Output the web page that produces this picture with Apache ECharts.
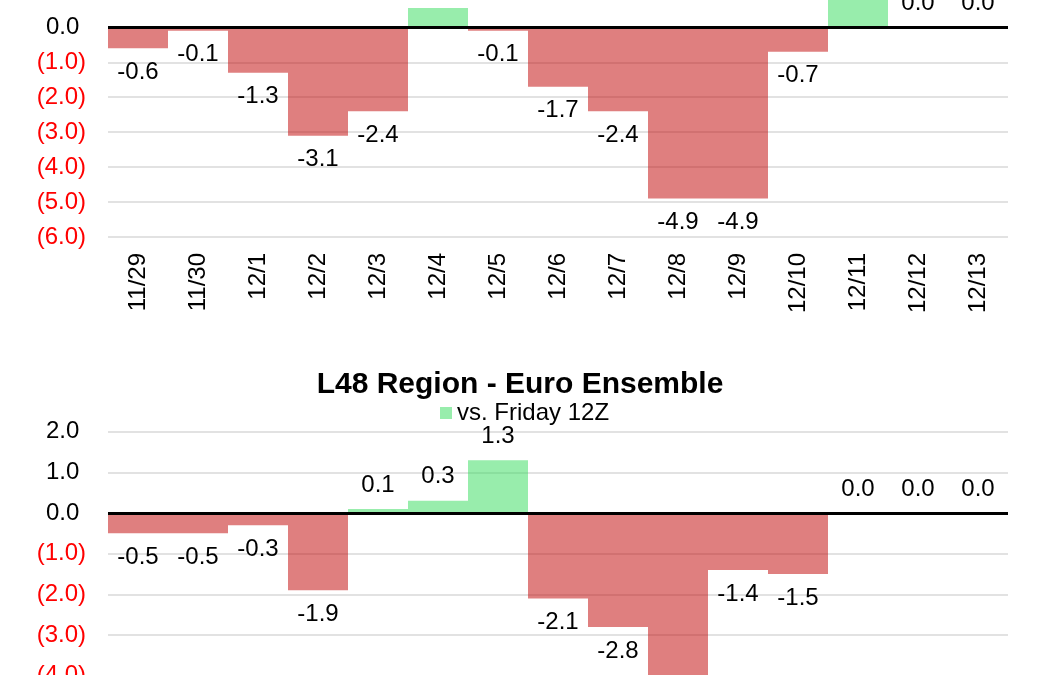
<!DOCTYPE html>
<html>
<head>
<meta charset="utf-8">
<script src="https://cdn.jsdelivr.net/npm/echarts@6/dist/echarts.min.js"></script>
<style>
  html, body { margin: 0; padding: 0; background: #fff; }
  #wrap { position: relative; width: 1040px; height: 675px; overflow: hidden; }
  /* the chart is taller than the window: top and bottom parts are cut off like the reference */
  #chart { position: absolute; left: 0; top: -100px; width: 1040px; height: 900px; }
</style>
</head>
<body>
<div id="wrap"><div id="chart"></div></div>
<script>
// categories (forecast days)
const days = ["11/29", "11/30", "12/1", "12/2", "12/3", "12/4", "12/5", "12/6",
  "12/7", "12/8", "12/9", "12/10", "12/11", "12/12", "12/13"];

// upper chart (title cut off), change per day
const upperDiff = [-0.6, -0.1, -1.3, -3.1, -2.4, 0.55, -0.1, -1.7, -2.4, -4.9, -4.9, -0.7, 1.1, 0.0, 0.0];

// L48 Region - Euro Ensemble, change per day
const euroDiff = [-0.5, -0.5, -0.3, -1.9, 0.1, 0.3, 1.3, -2.1, -2.8, -4.3, -1.4, -1.5, 0.0, 0.0, 0.0];

const euroTitle = "L48 Region - Euro Ensemble";
const euroName = "vs. Friday 12Z";

const FONT = "Liberation Sans, Arial, sans-serif";
const RED = "rgba(192, 0, 0, 0.5)";
const GREEN = "rgba(50, 220, 90, 0.5)";

function barData(values) {
  return values.map(function (v) {
    return {
      value: v,
      itemStyle: { color: v < 0 ? RED : GREEN },
      label: { position: v < 0 ? "bottom" : "top" },
    };
  });
}

function xAxisCfg(idx) {
  return {
    type: "category",
    gridIndex: idx,
    data: days,
    axisLine: { show: false },
    axisTick: { show: false },
    axisLabel: {
      rotate: 90,
      margin: 16,
      fontSize: 24,
      fontFamily: FONT,
      color: "#000",
    },
  };
}

function yAxisCfg(idx, min, max) {
  return {
    type: "value",
    gridIndex: idx,
    min: min,
    max: max,
    interval: 1,
    axisLine: { show: false },
    axisTick: { show: false },
    splitLine: { lineStyle: { color: "#D9D9D9", width: 1.5 } },
    axisLabel: {
      margin: 22,
      fontSize: 24,
      fontFamily: FONT,
      // negatives in red with parentheses, like the excel number format
      formatter: function (v) {
        return v < 0 ? "(" + (-v).toFixed(1) + ")" : v.toFixed(1) + " ";
      },
      color: function (v) {
        return Number(v) < 0 ? "#FF0000" : "#000000";
      },
    },
  };
}

function barSeries(name, idx, values) {
  return {
    name: name,
    type: "bar",
    xAxisIndex: idx,
    yAxisIndex: idx,
    barCategoryGap: "0%",
    itemStyle: { color: GREEN },
    label: {
      show: true,
      distance: 12,
      fontSize: 24,
      fontFamily: FONT,
      color: "#000",
      formatter: function (p) {
        return p.value.toFixed(1);
      },
    },
    markLine: {
      silent: true,
      symbol: ["none", "none"],
      label: { show: false },
      lineStyle: { color: "#000", width: 3, type: "solid" },
      data: [{ yAxis: 0 }],
    },
    data: barData(values),
  };
}

const chart = echarts.init(document.getElementById("chart"));
chart.setOption({
  animation: false,
  title: {
    text: euroTitle,
    left: "center",
    top: 465,
    textStyle: { fontSize: 30, fontWeight: "bold", fontFamily: FONT, color: "#000" },
  },
  legend: {
    data: [euroName],
    left: 440,
    top: 501,
    padding: 0,
    itemGap: 6,
    icon: "rect",
    itemWidth: 12,
    itemHeight: 12,
    textStyle: { fontSize: 24, fontFamily: FONT, color: "#000" },
  },
  // 60px per category so the bar edges sit on whole pixels
  grid: [
    { left: 108, width: 900, top: 57.4, height: 279.6, outerBoundsMode: "none" },
    { left: 108, width: 900, top: 531.7, height: 325.3, outerBoundsMode: "none" },
  ],
  xAxis: [xAxisCfg(0), xAxisCfg(1)],
  yAxis: [yAxisCfg(0, -6, 2), yAxisCfg(1, -6, 2)],
  series: [
    barSeries("upper", 0, upperDiff),
    barSeries(euroName, 1, euroDiff),
  ],
});
</script>
</body>
</html>
